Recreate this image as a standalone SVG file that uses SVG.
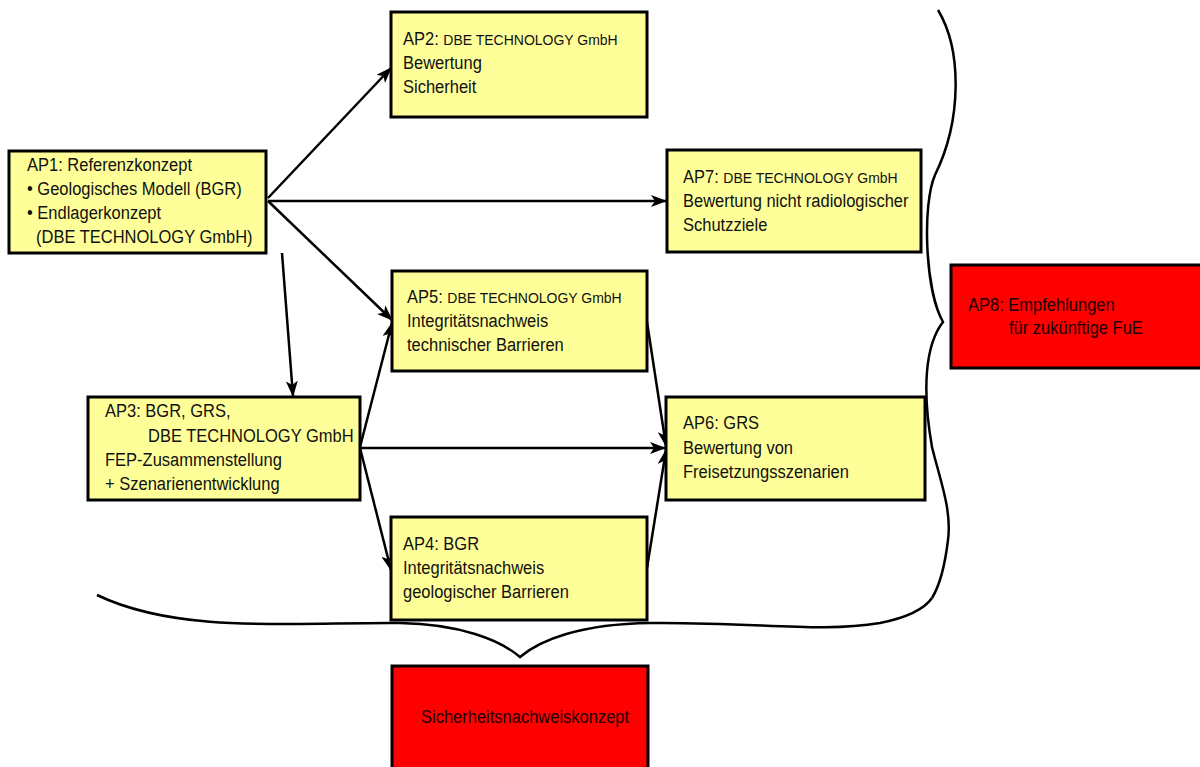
<svg xmlns="http://www.w3.org/2000/svg" width="1200" height="767" viewBox="0 0 1200 767">
<style>
.box{fill:#ffff99;stroke:#000;stroke-width:3}
.red{fill:#ff0000;stroke:#000;stroke-width:3}
text{font-family:"Liberation Sans",Arial,sans-serif;font-size:16.5px;fill:#111;transform-box:fill-box;transform-origin:left bottom;transform:scaleY(1.07)}
.s{font-size:14px}
.rt{fill:#200000}
.con{fill:none;stroke:#000;stroke-width:2.5}
.brace{fill:none;stroke:#000;stroke-width:2.5}
</style>
<defs>
<marker id="ah" markerUnits="userSpaceOnUse" markerWidth="16" markerHeight="12" refX="15" refY="6" orient="auto">
<path d="M0,0 L16,6 L0,12 L4,6 Z" fill="#000"/>
</marker>
</defs>
<rect width="1200" height="767" fill="#fff"/>

<g id="braces">
<path class="brace" d="M97 595 C180 635 300 622 400 623 C460 624 500 640 520 657 C540 640 580 624 650 623 C760 622 820 633 880 623 C910 617 925 608 932 598"/>
<path class="brace" d="M938 10 C962 50 962 120 935 175 C922 205 925 290 943 322 C925 345 922 390 932 447 C940 480 952 510 948 540 C945 565 940 585 932 598"/>
</g>

<g id="connectors">
<line class="con" x1="268" y1="198" x2="391" y2="68" marker-end="url(#ah)"/>
<line class="con" x1="268" y1="201" x2="666" y2="201" marker-end="url(#ah)"/>
<line class="con" x1="268" y1="201" x2="392" y2="320" marker-end="url(#ah)"/>
<line class="con" x1="282" y1="253" x2="293" y2="396" marker-end="url(#ah)"/>
<line class="con" x1="360" y1="447" x2="392" y2="323" marker-end="url(#ah)"/>
<line class="con" x1="360" y1="448" x2="665" y2="448" marker-end="url(#ah)"/>
<line class="con" x1="360" y1="448" x2="391" y2="570" marker-end="url(#ah)"/>
<line class="con" x1="647" y1="322" x2="666" y2="446" marker-end="url(#ah)"/>
<line class="con" x1="647" y1="568" x2="666" y2="450" marker-end="url(#ah)"/>
</g>

<g id="AP1">
<rect class="box" x="9" y="151" width="257" height="102"/>
<text x="27" y="171">AP1: Referenzkonzept</text>
<text x="27" y="195">• Geologisches Modell (BGR)</text>
<text x="27" y="219">• Endlagerkonzept</text>
<text x="36" y="243">(DBE TECHNOLOGY GmbH)</text>
</g>

<g id="AP2">
<rect class="box" x="391" y="12" width="256" height="105"/>
<text x="403" y="45">AP2: <tspan class="s">DBE TECHNOLOGY GmbH</tspan></text>
<text x="403" y="69">Bewertung</text>
<text x="403" y="93">Sicherheit</text>
</g>

<g id="AP7">
<rect class="box" x="667" y="150" width="254" height="102"/>
<text x="683" y="183">AP7: <tspan class="s">DBE TECHNOLOGY GmbH</tspan></text>
<text x="683" y="207">Bewertung nicht radiologischer</text>
<text x="683" y="231">Schutzziele</text>
</g>

<g id="AP5">
<rect class="box" x="392" y="271" width="255" height="100"/>
<text x="407" y="303">AP5: <tspan class="s">DBE TECHNOLOGY GmbH</tspan></text>
<text x="407" y="327">Integritätsnachweis</text>
<text x="407" y="351">technischer Barrieren</text>
</g>

<g id="AP3">
<rect class="box" x="88" y="397" width="272" height="103"/>
<text x="105" y="417">AP3: BGR, GRS,</text>
<text x="148" y="442">DBE TECHNOLOGY GmbH</text>
<text x="105" y="466">FEP-Zusammenstellung</text>
<text x="105" y="490">+ Szenarienentwicklung</text>
</g>

<g id="AP6">
<rect class="box" x="666" y="397" width="259" height="103"/>
<text x="683" y="429">AP6: GRS</text>
<text x="683" y="454">Bewertung von</text>
<text x="683" y="478">Freisetzungsszenarien</text>
</g>

<g id="AP4">
<rect class="box" x="391" y="517" width="256" height="103"/>
<text x="403" y="550">AP4: BGR</text>
<text x="403" y="574">Integritätsnachweis</text>
<text x="403" y="598">geologischer Barrieren</text>
</g>

<g id="AP8">
<rect class="red" x="951" y="265" width="260" height="103"/>
<text class="rt" x="968" y="311">AP8: Empfehlungen</text>
<text class="rt" x="1009" y="334">für zukünftige FuE</text>
</g>

<g id="SNK">
<rect class="red" x="392" y="666" width="256" height="110"/>
<text class="rt" x="421" y="723">Sicherheitsnachweiskonzept</text>
</g>
</svg>
